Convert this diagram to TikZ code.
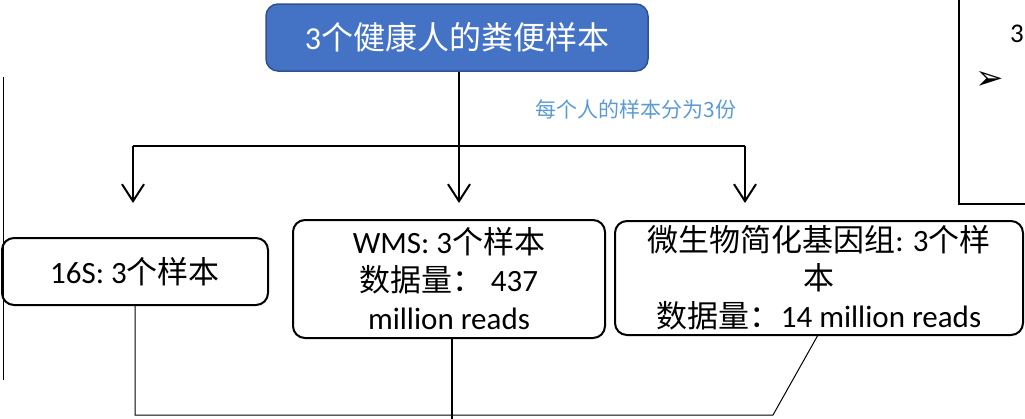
\documentclass[tikz,border=0pt]{standalone}
\usepackage{fontspec}
\setmainfont{Carlito}
\newfontfamily\cjk{Noto Sans CJK SC}
\newfontfamily\symfont{DejaVu Sans}
\newcommand\zh[1]{{\cjk #1}}
\usetikzlibrary{arrows.meta}
\definecolor{topfill}{HTML}{4472C4}
\definecolor{topdraw}{HTML}{2F528F}
\definecolor{lblue}{HTML}{5B9BD5}
\tikzset{
  x=1pt,y=-1pt,
  box/.style={draw=black,line width=2pt,rounded corners=12pt,align=center,inner sep=0pt,
    font=\fontsize{31}{38}\selectfont},
  topbox/.style={draw=topdraw,line width=1.5pt,fill=topfill,rounded corners=12pt,text=white,
    inner sep=0pt,font=\fontsize{32}{38}\selectfont},
  arr/.style={line width=2pt,-{Straight Barb[length=17pt,width=22pt]}},
  mainline/.style={line width=2pt},
  thinline/.style={line width=1.3pt},
  hairline/.style={line width=1pt},
}
\begin{document}
\begin{tikzpicture}
\useasboundingbox (0,0) rectangle (1025,418);
% side frames
\coordinate (L1) at (3,77);
\coordinate (L2) at (3,380);
\draw[hairline] (L1) -- (L2);
\coordinate (R1) at (959,-2);
\coordinate (R2) at (959,204);
\coordinate (R3) at (1027,204);
\draw[thinline] (R1) -- (R2) -- (R3);
\node[font=\fontsize{27}{30}\selectfont,inner sep=0pt,anchor=center] (r3) at (1017,34) {3};
\node[font=\symfont\fontsize{34}{38}\selectfont,inner sep=0pt] (rb) at (990,80) {➢};

% top node
\node[topbox,minimum width=382pt,minimum height=67pt] (top) at (457,37.5)
  {3\zh{个健康人的粪便样本}};

% boxes
\node[box,minimum width=266pt,minimum height=67pt] (s16) at (135,271.5)
  {16S: 3\zh{个样本}};
\node[box,minimum width=312pt,minimum height=118pt] (wms) at (449,279)
  {WMS: 3\zh{个样本}\\\zh{数据量：}\ 437\\million reads};
\node[box,minimum width=408pt,minimum height=114pt] (mg) at (819,278)
  {\zh{微生物简化基因组}: 3\zh{个样}\\\zh{本}\\\zh{数据量：}14 million reads};

% label
\node[text=lblue,font=\cjk\fontsize{21}{24}\selectfont,anchor=center] (lbl) at (636,109)
  {每个人的样本分为3份};

% split connectors
\coordinate (hL) at (133,146);
\coordinate (hR) at (745,146);
\coordinate (hM) at (459,146);
\coordinate (aL) at (133,203);
\coordinate (aM) at (459,203);
\coordinate (aR) at (745,203);
\draw[thinline] (hL) -- (hR);
\draw[arr] (top.south -| hM) -- (aM);
\draw[arr] (hL) -- (aL);
\draw[arr] (hR) -- (aR);

% bottom connectors
\coordinate (b16) at (135,415);
\coordinate (bend) at (773,415);
\coordinate (bW) at (452,420);
\coordinate (bmg) at (818,335);
\draw[hairline] (s16.south -| b16) -- (b16) -- (bend) -- (bmg);
\draw[mainline] (wms.south -| bW) -- (bW);
\end{tikzpicture}
\end{document}
